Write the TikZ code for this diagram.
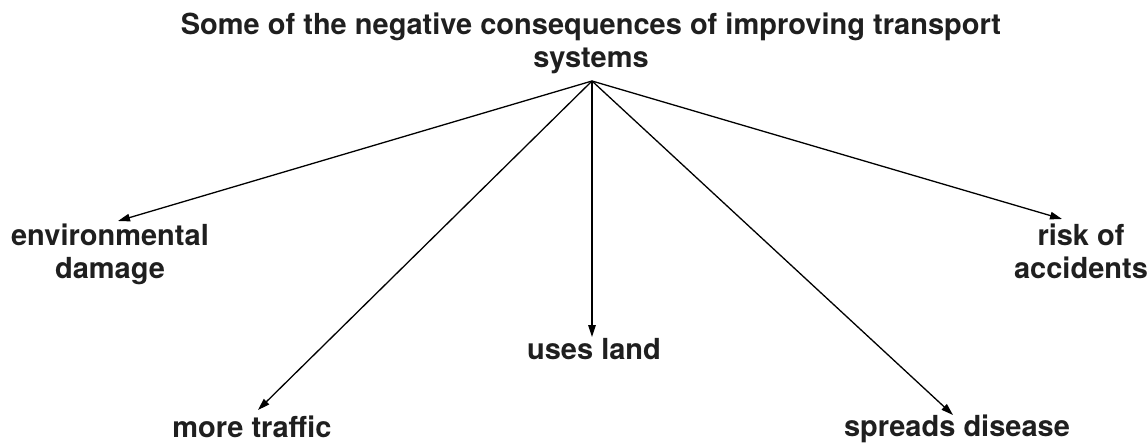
\documentclass[tikz,border=0pt]{standalone}
\usepackage{fontspec}
\setmainfont{TeX Gyre Heros}
\usetikzlibrary{arrows.meta}
\tikzset{
  lbl/.style={font=\fontsize{29}{33}\selectfont\bfseries, inner sep=0pt, align=center, anchor=base, text=black!88},
  conn/.style={line width=1.3pt, -{Triangle[length=12pt,width=7.5pt]}}
}
\begin{document}
\begin{tikzpicture}[x=1pt,y=-1pt]
\useasboundingbox (0,0) rectangle (1148,442);
\node[lbl] (title) at (591,67) {Some of the negative consequences of improving transport\\systems};
\node[lbl] (env) at (110,278) {environmental\\damage};
\node[lbl] (risk) at (1081,278) {risk of\\accidents};
\node[lbl] (land) at (594,359) {uses land};
\node[lbl] (traffic) at (252,437) {more traffic};
\node[lbl] (disease) at (957,436) {spreads disease};
\coordinate (apex) at (592,81);
\coordinate (tenv) at (118,221);
\coordinate (ttraffic) at (258,410);
\coordinate (tland) at (592,337);
\coordinate (tdisease) at (953,415);
\coordinate (trisk) at (1062,219);
\draw[conn] (apex) -- (tenv);
\draw[conn] (apex) -- (ttraffic);
\draw[conn] (apex) -- (tland);
\draw[conn] (apex) -- (tdisease);
\draw[conn] (apex) -- (trisk);
\end{tikzpicture}
\end{document}
